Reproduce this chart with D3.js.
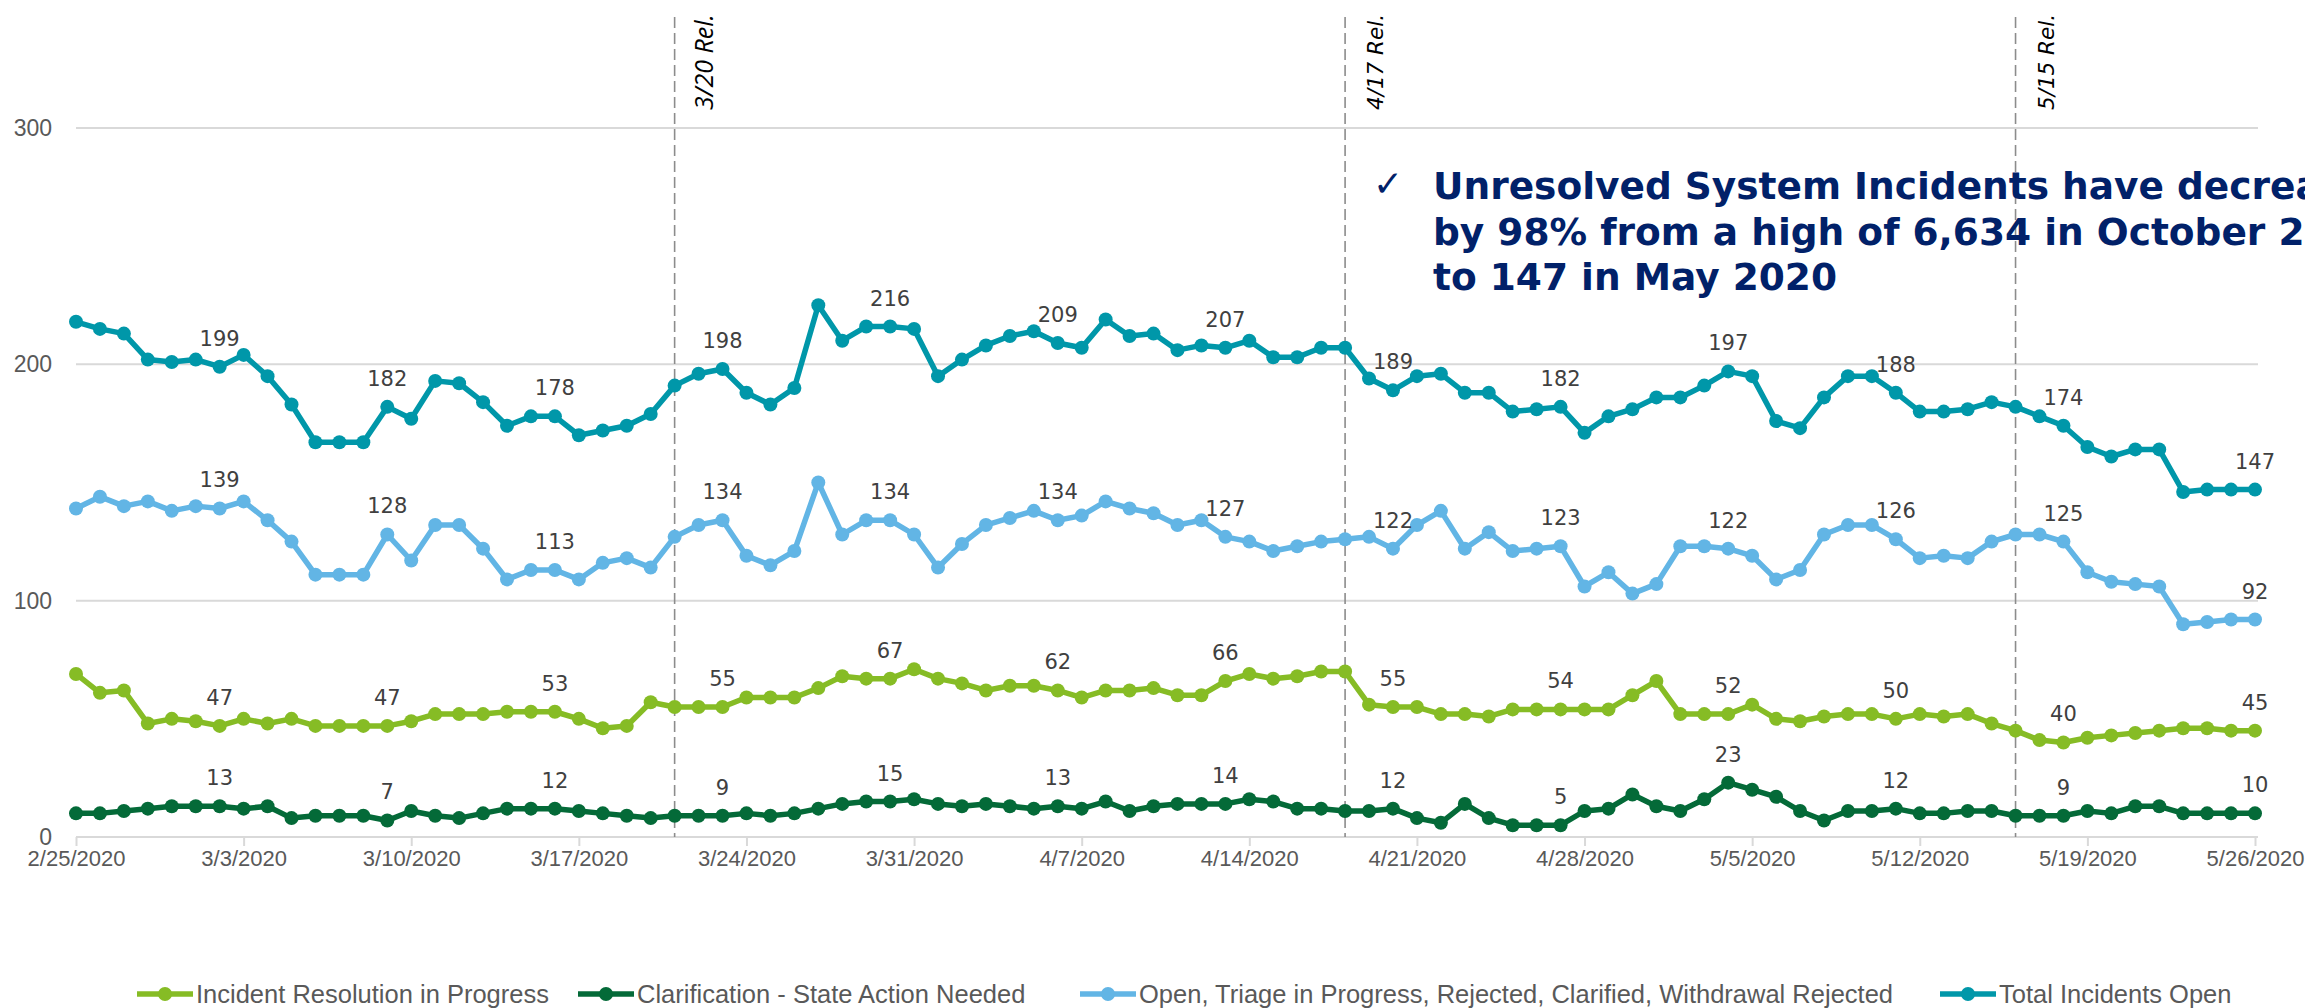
<!DOCTYPE html>
<html><head><meta charset="utf-8">
<script src="https://cdn.jsdelivr.net/npm/d3@7"></script>
<style>html,body{margin:0;padding:0;background:#fff;overflow:hidden}</style>
</head><body>
<svg id="chart" width="2305" height="1008"></svg>
<script>
// ---------- data ----------
const startDate = "2020-02-25";
const endDate = "2020-05-26";
const totalOpen = [218,215,213,202,201,202,199,204,195,183,167,167,167,182,177,193,
  192,184,174,178,178,170,172,174,179,191,196,198,188,183,190,
  225,210,216,216,215,195,202,208,212,214,209,207,219,212,213,
  206,208,207,210,203,203,207,207,194,189,195,196,188,188,180,
  181,182,171,178,181,186,186,191,197,195,176,173,186,195,195,
  188,180,180,181,184,182,178,174,165,161,164,164,146,147,147,147];
const openTriage = [139,144,140,142,138,140,139,142,134,125,111,111,111,128,117,132,
  132,122,109,113,113,109,116,118,114,127,132,134,119,115,121,
  150,128,134,134,128,114,124,132,135,138,134,136,142,139,137,
  132,134,127,125,121,123,125,126,127,122,132,138,122,129,121,
  122,123,106,112,103,107,123,123,122,119,109,113,128,132,132,
  126,118,119,118,125,128,128,125,112,108,107,106,90,91,92,92];
const incidentResolution = [69,61,62,48,50,49,47,50,48,50,47,47,47,47,49,52,
  52,52,53,53,53,50,46,47,57,55,55,55,59,59,59,
  63,68,67,67,71,67,65,62,64,64,62,59,62,62,63,
  60,60,66,69,67,68,70,70,56,55,55,52,52,51,54,
  54,54,54,54,60,66,52,52,52,56,50,49,51,52,52,
  50,52,51,52,48,45,41,40,42,43,44,45,46,46,45,45];
const clarification = [10,10,11,12,13,13,13,12,13,8,9,9,9,7,11,9,
  8,10,12,12,12,11,10,9,8,9,9,9,10,9,10,
  12,14,15,15,16,14,13,14,13,12,13,12,15,11,13,
  14,14,14,16,15,12,12,11,11,12,8,6,14,8,5,
  5,5,11,12,18,13,11,16,23,20,17,11,7,11,11,
  12,10,10,11,11,9,9,9,11,10,13,13,10,10,10,10];
const seriesNames = ["Incident Resolution in Progress","Clarification - State Action Needed",
  "Open, Triage in Progress, Rejected, Clarified, Withdrawal Rejected","Total Incidents Open"];
const seriesColors = ["#86BC25","#046A38","#62B5E5","#0097A9"];
const labelDays = [6,13,20,27,34,41,48,55,62,69,76,83,91];
const yTicks = [0,100,200,300];
const xTickLabels = ["2/25/2020","3/3/2020","3/10/2020","3/17/2020","3/24/2020","3/31/2020","4/7/2020",
  "4/14/2020","4/21/2020","4/28/2020","5/5/2020","5/12/2020","5/19/2020","5/26/2020"];
const releaseDates = ["2020-03-21","2020-04-18","2020-05-16"];
const releaseLabels = ["3/20 Rel.","4/17 Rel.","5/15 Rel."];
const annotationLines = ["Unresolved System Incidents have decreased",
  "by 98% from a high of 6,634 in October 2019","to 147 in May 2020"];

// ---------- setup ----------
const svg = d3.select("#chart");
const parse = d3.utcParse("%Y-%m-%d");
const t0 = parse(startDate), t1 = parse(endDate);
const dates = d3.utcDay.range(t0, d3.utcDay.offset(t1, 1));
const x = d3.scaleUtc().domain([t0, t1]).range([76, 2255]);
const y = d3.scaleLinear().domain([0, 300]).range([837, 128]);
const gridColor = "#d9d9d9";

// gridlines
svg.append("g").selectAll("line").data(yTicks.filter(d => d > 0)).join("line")
  .attr("x1", 76).attr("x2", 2258).attr("y1", d => y(d)).attr("y2", d => y(d))
  .attr("stroke", gridColor).attr("stroke-width", 2);

// y labels
svg.append("g").selectAll("text").data(yTicks).join("text")
  .attr("x", 52).attr("y", d => y(d)).attr("dy", "0.35em").attr("text-anchor", "end")
  .attr("font-family", "Liberation Sans, Arial, sans-serif").attr("font-size", 23)
  .attr("fill", "#595959").text(d => d);

// x axis
const weekTicks = d3.utcDay.range(t0, d3.utcDay.offset(t1, 1), 7);
const xAxis = d3.axisBottom(x).tickValues(weekTicks).tickSize(9)
  .tickFormat((d, i) => xTickLabels[i]);
const gx = svg.append("g").attr("transform", `translate(0,${y(0)})`).call(xAxis);
gx.select(".domain").attr("stroke", gridColor).attr("stroke-width", 2)
  .attr("d", `M${x(t0)},0H${x(t1)+3}`);
gx.selectAll(".tick line").attr("stroke", gridColor).attr("stroke-width", 2);
gx.selectAll(".tick text").attr("font-family", "Liberation Sans, Arial, sans-serif")
  .attr("font-size", 22).attr("fill", "#595959").attr("y", 13).attr("dy", "0.71em");

// release lines
releaseDates.forEach((ds, i) => {
  const xr = x(parse(ds));
  svg.append("line").attr("x1", xr).attr("x2", xr).attr("y1", 17).attr("y2", y(0))
    .attr("stroke", "#8c8c8c").attr("stroke-width", 1.6).attr("stroke-dasharray", "11,5");
  svg.append("text").attr("transform", `translate(${xr + 38},110) rotate(-90)`)
    .attr("font-family", i === 0 ? "Open Sans, sans-serif" : "DejaVu Sans, Verdana, sans-serif")
    .attr("font-style", "italic").attr("font-size", i === 0 ? 25 : 21.5)
    .attr("fill", "#000").text(releaseLabels[i]);
});

// series
const seriesData = [incidentResolution, clarification, openTriage, totalOpen];
const line = d3.line().x((d, i) => x(dates[i])).y(d => y(d));
seriesData.forEach((vals, s) => {
  const g = svg.append("g");
  g.append("path").datum(vals).attr("d", line).attr("fill", "none")
    .attr("stroke", seriesColors[s]).attr("stroke-width", 5.5).attr("stroke-linejoin", "round");
  g.selectAll("circle").data(vals).join("circle")
    .attr("cx", (d, i) => x(dates[i])).attr("cy", d => y(d)).attr("r", 7)
    .attr("fill", seriesColors[s]);
});

// data labels
seriesData.forEach((vals, s) => {
  svg.append("g").selectAll("text").data(labelDays).join("text")
    .attr("x", d => x(dates[d])).attr("y", d => y(vals[d]) - 21)
    .attr("text-anchor", "middle").attr("font-family", "DejaVu Sans, Verdana, sans-serif")
    .attr("font-size", 21).attr("fill", "#404040").text(d => vals[d]);
});

// annotation
const ann = svg.append("g");
ann.append("text").attr("x", 1388).attr("y", 196).attr("text-anchor", "middle")
  .attr("font-family", "DejaVu Sans, sans-serif").attr("font-size", 36).attr("fill", "#012169").text("\u2713");
annotationLines.forEach((t, i) => {
  ann.append("text").attr("x", 1433).attr("y", 199 + i * 45.5)
    .attr("font-family", "DejaVu Sans, Verdana, sans-serif").attr("font-weight", "bold")
    .attr("font-size", 37.5).attr("fill", "#012169").text(t);
});

// legend
const legendX = [137, 578, 1080, 1940];
const legY = 994;
seriesNames.forEach((n, s) => {
  const g = svg.append("g").attr("transform", `translate(${legendX[s]},${legY})`);
  g.append("line").attr("x1", 0).attr("x2", 56).attr("stroke", seriesColors[s]).attr("stroke-width", 5.5);
  g.append("circle").attr("cx", 28).attr("r", 7).attr("fill", seriesColors[s]);
  g.append("text").attr("x", 59).attr("dy", "0.35em")
    .attr("font-family", "Liberation Sans, Arial, sans-serif").attr("font-size", 25.5)
    .attr("fill", "#595959").text(n);
});
</script>
</body></html>
